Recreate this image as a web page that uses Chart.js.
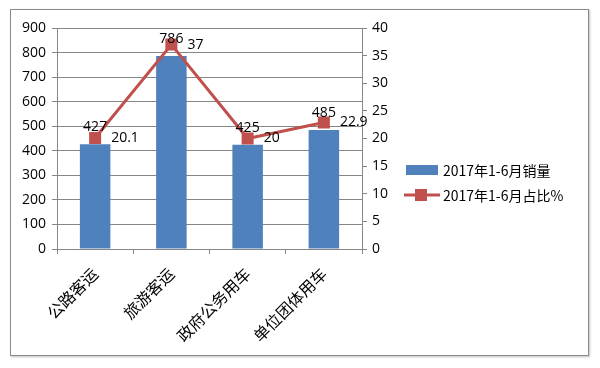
<!DOCTYPE html>
<html>
<head>
<meta charset="utf-8">
<script src="https://cdn.jsdelivr.net/npm/chart.js@4"></script>
<style>
html, body { margin: 0; padding: 0; background: #fff; }
#wrap { position: relative; width: 600px; height: 368px; }
#frame { position: absolute; left: 10px; top: 9px; width: 577px; height: 345px; border: 1px solid #8a8a8a; box-shadow: 1px 1px 2px rgba(0,0,0,0.25); }
canvas { position: absolute; left: 0; top: 0; }
</style>
</head>
<body>
<div id="wrap">
  <div id="frame"></div>
  <canvas id="myChart" width="600" height="368"></canvas>
</div>
<script>
var categories = ['公路客运', '旅游客运', '政府公务用车', '单位团体用车'];
var salesLabel = '2017年1-6月销量';
var salesValues = [427, 786, 425, 485];
var shareLabel = '2017年1-6月占比%';
var shareValues = [20.1, 37, 20, 22.9];
var leftTicks = { min: 0, max: 900, step: 100 };
var rightTicks = { min: 0, max: 40, step: 5 };

var BLUE = '#4F81BD';
var RED = '#C0504D';
var GRID = '#868686';
var numFont = '14px "Open Sans", "DejaVu Sans", sans-serif';

// value labels: bars above, line to the right of the marker
var valueLabels = {
    id: 'valueLabels',
    afterDatasetsDraw: function (chart) {
        var ctx = chart.ctx;
        ctx.save();
        ctx.font = numFont;
        ctx.fillStyle = '#000';
        chart.data.datasets.forEach(function (ds, i) {
            var meta = chart.getDatasetMeta(i);
            meta.data.forEach(function (el, j) {
                if (ds.type === 'bar') {
                    ctx.textAlign = 'center';
                    ctx.textBaseline = 'bottom';
                    ctx.fillText(String(ds.data[j]), el.x, el.y - 10);
                } else {
                    ctx.textAlign = 'left';
                    ctx.textBaseline = 'middle';
                    ctx.fillText(String(ds.data[j]), el.x + 16, el.y);
                }
            });
        });
        ctx.restore();
    }
};

// legend on the right, Excel style
var sideLegend = {
    id: 'sideLegend',
    afterDraw: function (chart) {
        var ctx = chart.ctx;
        var x0 = 406, y0 = 170, gap = 25;
        ctx.save();
        ctx.font = '14px "Noto Sans CJK SC", sans-serif';
        ctx.textBaseline = 'middle';
        ctx.textAlign = 'left';
        chart.data.datasets.forEach(function (ds, i) {
            var y = y0 + i * gap;
            if (ds.type === 'bar') {
                ctx.fillStyle = ds.backgroundColor;
                ctx.fillRect(x0, y - 5, 32, 10);
            } else {
                ctx.strokeStyle = ds.borderColor;
                ctx.lineWidth = 3;
                ctx.beginPath();
                ctx.moveTo(x0 - 2, y);
                ctx.lineTo(x0 + 34, y);
                ctx.stroke();
                ctx.fillStyle = ds.pointBackgroundColor;
                ctx.fillRect(x0 + 9, y - 6, 12, 12);
            }
            ctx.fillStyle = '#000';
            ctx.fillText(ds.label, x0 + 37, y + 1);
        });
        ctx.restore();
    }
};

var ctx = document.getElementById('myChart').getContext('2d');
var chart = new Chart(ctx, {
    data: {
        labels: categories,
        datasets: [
            {
                type: 'bar',
                label: salesLabel,
                data: salesValues,
                yAxisID: 'y',
                order: 2,
                backgroundColor: BLUE,
                categoryPercentage: 1,
                barPercentage: 0.4
            },
            {
                type: 'line',
                label: shareLabel,
                data: shareValues,
                yAxisID: 'y1',
                order: 1,
                borderColor: RED,
                borderWidth: 3,
                pointStyle: 'rect',
                pointRadius: 8.5,
                pointBackgroundColor: RED,
                pointBorderColor: RED,
                pointBorderWidth: 0,
                tension: 0
            }
        ]
    },
    options: {
        responsive: false,
        animation: false,
        layout: { padding: { top: 28, left: 0, right: 0, bottom: 0 } },
        plugins: {
            legend: { display: false },
            tooltip: { enabled: false }
        },
        scales: {
            x: {
                offset: true,
                grid: { display: true, offset: true, drawOnChartArea: false, color: GRID, tickLength: 5 },
                border: { color: GRID, width: 1 },
                ticks: {
                    color: '#000',
                    minRotation: 45,
                    maxRotation: 45,
                    autoSkip: false,
                    padding: 10,
                    font: { family: '"Noto Sans CJK SC", sans-serif', size: 16 }
                },
                afterFit: function (scale) { scale.height = 119; }
            },
            y: {
                position: 'left',
                min: leftTicks.min,
                max: leftTicks.max,
                ticks: {
                    stepSize: leftTicks.step,
                    color: '#000',
                    padding: 6,
                    font: { family: '"Open Sans", "DejaVu Sans", sans-serif', size: 14 }
                },
                grid: { color: GRID, tickLength: 5 },
                border: { color: GRID, width: 1 },
                afterFit: function (scale) { scale.width = 57; }
            },
            y1: {
                position: 'right',
                min: rightTicks.min,
                max: rightTicks.max,
                ticks: {
                    stepSize: rightTicks.step,
                    color: '#000',
                    padding: 5,
                    font: { family: '"Open Sans", "DejaVu Sans", sans-serif', size: 14 }
                },
                grid: { drawOnChartArea: false, color: GRID, tickLength: 5 },
                border: { color: GRID, width: 1 },
                afterFit: function (scale) { scale.width = 238; }
            }
        }
    },
    plugins: [valueLabels, sideLegend]
});
</script>
</body>
</html>
